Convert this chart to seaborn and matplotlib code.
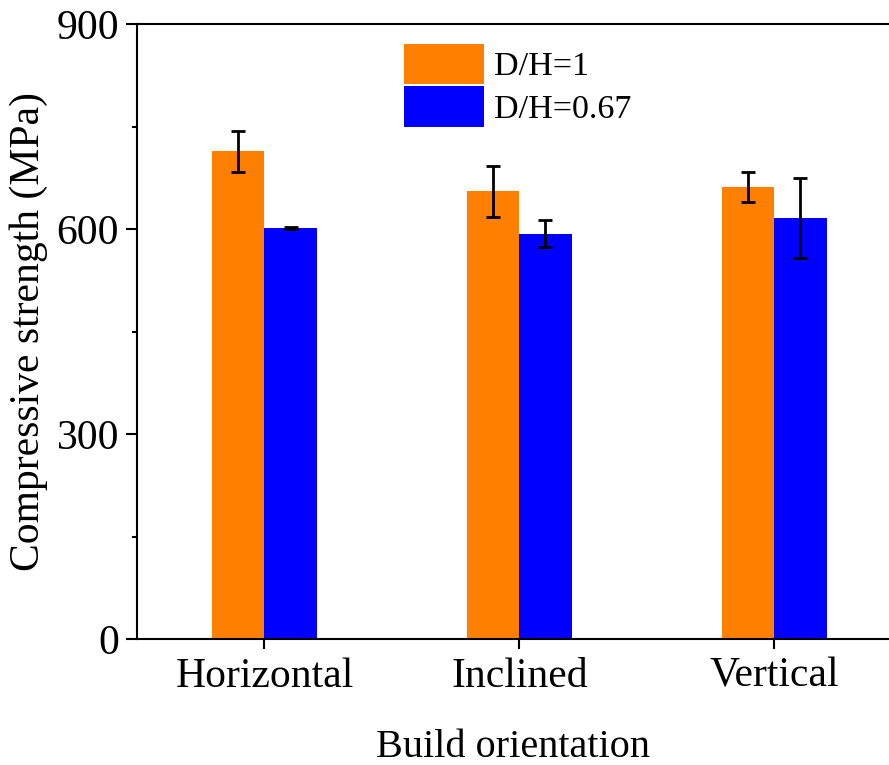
import numpy as np
import pandas as pd
import matplotlib
matplotlib.use("Agg")
import matplotlib.pyplot as plt
from matplotlib.patches import Patch
from matplotlib.ticker import MultipleLocator
import seaborn as sns

# Compressive strength by build orientation for two D/H ratios
categories = ["Horizontal", "Inclined", "Vertical"]
series_names = ["D/H=1", "D/H=0.67"]
dh1_mean = [714, 655, 662]
dh1_err = [30, 37, 22]
dh067_mean = [602, 593, 616]
dh067_err = [1.5, 20, 59]

colors = ["#FF8000", "#0000FF"]

df = pd.DataFrame({
    "orientation": categories * 2,
    "ratio": [series_names[0]] * 3 + [series_names[1]] * 3,
    "strength": dh1_mean + dh067_mean,
})
errs = [dh1_err, dh067_err]

sns.set_style("ticks")
plt.rcParams["font.family"] = ["Liberation Serif", "DejaVu Serif"]
plt.rcParams["text.color"] = "black"
plt.rcParams["axes.labelcolor"] = "black"
plt.rcParams["xtick.color"] = "black"
plt.rcParams["ytick.color"] = "black"

fig = plt.figure(figsize=(8.89, 7.65), dpi=100)
ax = fig.add_axes([0.1541, 0.1647, 0.8459, 0.8039])

sns.barplot(data=df, x="orientation", y="strength", hue="ratio",
            hue_order=series_names, order=categories, palette=colors,
            width=0.41, errorbar=None, saturation=1, linewidth=0, ax=ax)

# error bars centred on each drawn bar
for container, err in zip(ax.containers, errs):
    xs = [p.get_x() + p.get_width() / 2 for p in container.patches]
    ys = [p.get_height() for p in container.patches]
    ax.errorbar(xs, ys, yerr=err, fmt="none", ecolor="black",
                elinewidth=2, capsize=5, capthick=2, zorder=5)

ax.set_ylim(0, 900)
ax.set_xlim(-0.5, 2.45)
ax.yaxis.set_major_locator(MultipleLocator(300))
ax.yaxis.set_minor_locator(MultipleLocator(150))

for side in ["left", "bottom", "top"]:
    ax.spines[side].set_linewidth(1.5)
    ax.spines[side].set_color("black")
ax.spines["right"].set_visible(False)

ax.tick_params(axis="y", which="major", direction="out", length=8, width=1.5,
               labelsize=30, pad=5, colors="black")
ax.tick_params(axis="y", which="minor", direction="out", length=3.5, width=1.5,
               colors="black")
ax.tick_params(axis="x", which="major", direction="out", length=7, width=1.5,
               labelsize=30, pad=6, colors="black")

ax.set_xlabel("Build orientation", fontsize=29, labelpad=24, color="black")
ax.set_ylabel("Compressive strength (MPa)", fontsize=30, labelpad=6,
              color="black")

leg = ax.get_legend()
if leg is not None:
    leg.remove()
handles = [Patch(facecolor=c, edgecolor="none") for c in colors]
fig.legend(handles, series_names, loc="upper left",
           bbox_to_anchor=(404 / 889, 1 - 44 / 765), frameon=False,
           fontsize=24.5, handlelength=2.35, handleheight=1.45,
           handletextpad=0.3, labelspacing=0.05, borderpad=0,
           borderaxespad=0)

fig.savefig("out.png", dpi=100)
